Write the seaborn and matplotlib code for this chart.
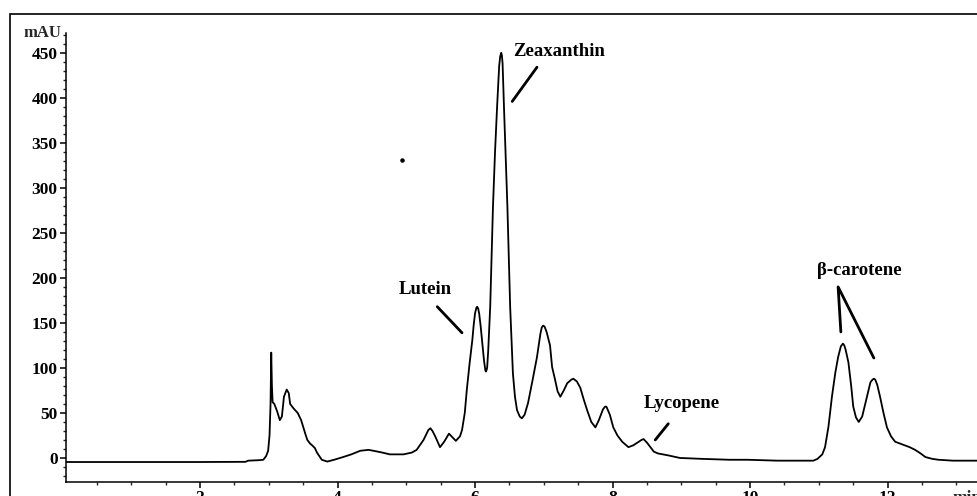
import matplotlib
matplotlib.use("Agg")
import matplotlib.pyplot as plt
from matplotlib.patches import Rectangle
from matplotlib.ticker import MultipleLocator
import seaborn as sns
import pandas as pd

# retention time (min) and absorbance (mAU)
time_min = [0.05, 1.0, 2.0, 2.66, 2.70, 2.85, 2.92, 2.96, 2.99, 3.01, 3.025, 3.035,
            3.045, 3.055, 3.08, 3.12, 3.16, 3.19, 3.22, 3.26, 3.29, 3.31, 3.36, 3.42,
            3.47, 3.53, 3.56, 3.60, 3.63, 3.67, 3.70, 3.77, 3.85, 3.95, 4.08, 4.20,
            4.33, 4.45, 4.52, 4.65, 4.76, 4.96, 5.08, 5.15, 5.25, 5.32, 5.35, 5.38,
            5.42, 5.49, 5.55, 5.62, 5.67, 5.72, 5.78, 5.81, 5.85, 5.88, 5.92, 5.96,
            5.98, 6.00, 6.02, 6.03, 6.045, 6.06, 6.08, 6.10, 6.13, 6.15, 6.16, 6.175,
            6.19, 6.22, 6.26, 6.29, 6.32, 6.35, 6.365, 6.38, 6.39, 6.40, 6.42, 6.47,
            6.51, 6.55, 6.58, 6.61, 6.65, 6.68, 6.72, 6.77, 6.84, 6.90, 6.95, 6.97,
            6.99, 7.01, 7.04, 7.09, 7.12, 7.16, 7.20, 7.24, 7.29, 7.34, 7.40, 7.43,
            7.48, 7.53, 7.58, 7.63, 7.69, 7.75, 7.80, 7.86, 7.89, 7.91, 7.96, 8.01,
            8.07, 8.14, 8.23, 8.30, 8.36, 8.42, 8.45, 8.50, 8.55, 8.60, 8.66, 8.80,
            8.98, 9.30, 9.70, 9.96, 10.40, 10.92, 10.98, 11.05, 11.09, 11.14, 11.19,
            11.24, 11.28, 11.32, 11.35, 11.37, 11.39, 11.43, 11.47, 11.50, 11.54, 11.58,
            11.63, 11.70, 11.75, 11.78, 11.80, 11.82, 11.85, 11.89, 11.94, 11.99, 12.05,
            12.11, 12.18, 12.25, 12.32, 12.40, 12.48, 12.55, 12.65, 12.74, 12.95, 13.30]
signal_mau = [-4.5, -4.5, -4.5, -4.3, -3, -2.5, -2, 2, 8, 25, 60, 117,
              80, 62, 60, 52, 42, 46, 68, 76, 72, 60, 55, 50,
              42, 27, 20, 16, 14, 11, 6, -2, -4, -2, 1, 4,
              8, 9, 8, 6, 4, 4, 6, 9, 20, 31, 33, 30,
              24, 12, 18, 27, 23, 19, 24, 31, 50, 76, 105, 131,
              148, 161, 167, 168, 166, 160, 147, 131, 108, 97, 96, 100,
              118, 168, 279, 340, 390, 435, 446, 450, 447, 438, 390, 279,
              168, 94, 68, 53, 46, 44, 48, 61, 88, 112, 138, 145,
              147, 146, 140, 125, 101, 88, 74, 68, 75, 83, 87, 88,
              85, 78, 65, 53, 40, 34, 42, 54, 57, 57, 48, 34,
              25, 18, 12, 14, 17, 20, 21, 17, 12, 7, 5, 3,
              0, -1, -2, -2, -3, -3, -1, 4, 12, 35, 68,
              95, 112, 124, 127, 125, 120, 106, 80, 57, 45, 40,
              46, 68, 84, 87, 88, 87, 81, 68, 50, 34, 24,
              18, 16, 14, 12, 9, 5, 1, -1, -2, -3, -3]

# stray dot on the original trace
dot_time = [4.93]
dot_mau = [331]

peak_names = ["Zeaxanthin", "Lutein", "Lycopene", "\u03b2-carotene"]

df = pd.DataFrame({"time": time_min, "mAU": signal_mau})

sns.set_style("ticks")
plt.rcParams["font.family"] = ["Liberation Serif", "DejaVu Serif"]
plt.rcParams["font.weight"] = "bold"

fig = plt.figure(figsize=(9.77, 4.96), dpi=100)
ax = fig.add_axes([66 / 977, 14 / 496, 1 - 66 / 977, (482 - 33) / 496])

sns.lineplot(data=df, x="time", y="mAU", estimator=None, sort=False,
             color="black", linewidth=1.3, ax=ax)
ax.scatter(dot_time, dot_mau, s=5, color="black", zorder=3)

ax.set_xlim(0.05, 13.30)
ax.set_ylim(-26.7, 472)
ax.xaxis.set_major_locator(MultipleLocator(2))
ax.xaxis.set_minor_locator(MultipleLocator(0.5))
ax.yaxis.set_major_locator(MultipleLocator(50))
ax.yaxis.set_minor_locator(MultipleLocator(10))
ax.set_xticks([2, 4, 6, 8, 10, 12])
ax.set_yticks(range(0, 451, 50))
ax.tick_params(axis="both", which="major", length=4.5, width=1.1,
               labelsize=12.5, pad=1.5, colors="black")
ax.tick_params(axis="both", which="minor", length=2.3, width=1.0)
for lab in ax.get_xticklabels() + ax.get_yticklabels():
    lab.set_fontweight("bold")
ax.set_xlabel("")
ax.set_ylabel("")
sns.despine(ax=ax, top=True, right=True)
for sp in ("left", "bottom"):
    ax.spines[sp].set_linewidth(1.1)
    ax.spines[sp].set_color("black")

ax.annotate("mAU", xy=(0, 1), xycoords="axes fraction", xytext=(-3.5, 0),
            textcoords="offset points", ha="right", va="center",
            fontsize=12, fontweight="bold")
ax.annotate("min", xy=(13.15, 0), xycoords=("data", "axes fraction"),
            xytext=(0, -5.5), textcoords="offset points", ha="center", va="top",
            fontsize=12.5, fontweight="bold")

# peak labels with pointer lines
lab_kw = dict(fontsize=13.5, fontweight="bold", color="black")
ax.text(6.55, 452, peak_names[0], ha="left", va="center", **lab_kw)
ax.plot([6.90, 6.54], [434, 396], color="black", lw=2)
ax.text(5.27, 187, peak_names[1], ha="center", va="center", **lab_kw)
ax.plot([5.45, 5.81], [168, 139], color="black", lw=2)
ax.text(9.00, 60, peak_names[2], ha="center", va="center", **lab_kw)
ax.plot([8.81, 8.62], [38, 20], color="black", lw=2)
ax.text(11.59, 208, peak_names[3], ha="center", va="center", **lab_kw)
ax.plot([11.32, 11.28, 11.80], [140, 190, 111], color="black", lw=2)

# outer frame of the exported report
fig.add_artist(Rectangle((10 / 977, -0.2), 2, 0.2 + (496 - 14) / 496,
                         transform=fig.transFigure, fill=False,
                         edgecolor="black", linewidth=1.2))

fig.savefig("out.png", dpi=100)
